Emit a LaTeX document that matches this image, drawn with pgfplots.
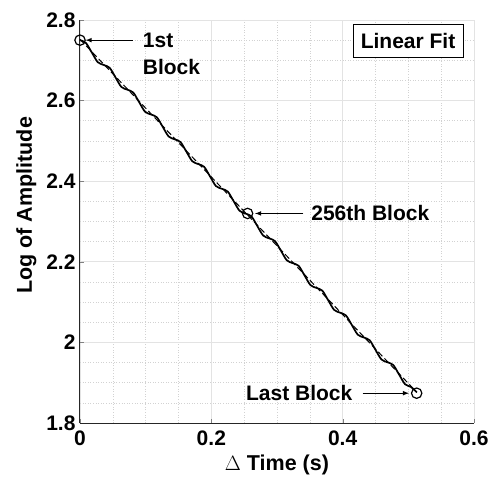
\documentclass[border=0pt]{standalone}
\usepackage{pgfplots}
\pgfplotsset{compat=1.18}
\usepackage{fontspec}
\setmainfont{Liberation Sans}
\begin{document}
\begin{tikzpicture}
\begin{axis}[
  name=ax,
  scale only axis,
  width=394pt, height=403pt,
  xmin=0, xmax=0.6, ymin=1.8, ymax=2.8,
  xtick={0,0.2,0.4,0.6}, ytick={1.8,2,2.2,2.4,2.6,2.8},
  minor tick num=3,
  minor tick length=0pt,
  major tick length=4pt,
  tick align=inside,
  axis x line*=bottom, axis y line*=left,
  axis line style={black!85, line width=1pt, -},
  grid=both,
  major grid style={gray!22, line width=0.8pt},
  minor grid style={gray!35, line width=0.6pt, dotted},
  /pgf/number format/assume math mode=true,
  ticklabel style={font=\fontsize{21}{24}\selectfont\bfseries},
  xticklabel style={yshift=-4pt},
  yticklabel style={xshift=-1pt},
  label style={font=\fontsize{21.5}{25}\selectfont\bfseries},
  xlabel={$\Delta$ Time (s)},
  ylabel={Log of Amplitude},
  xlabel style={yshift=-3pt},
  ylabel style={at={(ticklabel cs:0.54)}, yshift=3pt},
  clip=false,
]
\addplot[black, line width=1.7pt, smooth] coordinates {
(0,2.7500) (0.009,2.7431) (0.018,2.7193) (0.027,2.6954) (0.036,2.6885)
(0.045,2.6817) (0.054,2.6578) (0.063,2.6339) (0.072,2.6271) (0.081,2.6202)
(0.090,2.5963) (0.099,2.5725) (0.108,2.5656) (0.117,2.5587) (0.126,2.5348)
(0.135,2.5110) (0.144,2.5041) (0.153,2.4972) (0.162,2.4734) (0.171,2.4495)
(0.180,2.4426) (0.189,2.4358) (0.198,2.4119) (0.207,2.3880) (0.216,2.3812)
(0.225,2.3743) (0.234,2.3504) (0.243,2.3266) (0.252,2.3197) (0.261,2.3128)
(0.270,2.2889) (0.279,2.2651) (0.288,2.2582) (0.297,2.2513) (0.306,2.2275)
(0.315,2.2036) (0.324,2.1967) (0.333,2.1899) (0.342,2.1660) (0.351,2.1421)
(0.360,2.1353) (0.369,2.1284) (0.378,2.1045) (0.387,2.0807) (0.396,2.0738)
(0.405,2.0669) (0.414,2.0431) (0.423,2.0192) (0.432,2.0123) (0.441,2.0055)
(0.450,1.9816) (0.459,1.9577) (0.468,1.9508) (0.477,1.9440) (0.486,1.9201)
(0.495,1.8962) (0.504,1.8894) (0.513,1.8760)
};
\addplot[black, line width=1pt, dash pattern=on 6pt off 3pt] coordinates {(0,2.752) (0.513,1.876)};
\addplot[only marks, mark=o, mark size=5.2pt, mark options={line width=1.2pt, black}] coordinates {(0,2.75) (0.2552,2.32) (0.5127,1.874)};
% annotations
\draw[-latex, line width=1.1pt] (axis cs:0.080,2.75) -- (axis cs:0.0085,2.75);
\node[anchor=west, font=\fontsize{21}{24}\selectfont\bfseries, inner sep=0pt] at (axis cs:0.0955,2.75) {1st};
\node[anchor=west, font=\fontsize{21}{24}\selectfont\bfseries, inner sep=0pt] at (axis cs:0.0955,2.684) {Block};
\draw[-latex, line width=1.1pt] (axis cs:0.340,2.32) -- (axis cs:0.2665,2.32);
\node[anchor=west, font=\fontsize{21}{24}\selectfont\bfseries, inner sep=0pt] at (axis cs:0.352,2.32) {256th Block};
\draw[-latex, line width=1.1pt] (axis cs:0.4305,1.874) -- (axis cs:0.501,1.874);
\node[anchor=east, font=\fontsize{21}{24}\selectfont\bfseries, inner sep=0pt] at (axis cs:0.415,1.874) {Last Block};
\node[draw=black, line width=0.8pt, fill=white, minimum width=110pt, minimum height=33pt, inner sep=2pt, font=\fontsize{21}{24}\selectfont\bfseries] at (axis cs:0.4995,2.7487) {Linear Fit};
\end{axis}
\pgfresetboundingbox
\path ([xshift=-80pt,yshift=-62pt]ax.south west) rectangle ([xshift=21pt,yshift=20pt]ax.north east);
\end{tikzpicture}
\end{document}
